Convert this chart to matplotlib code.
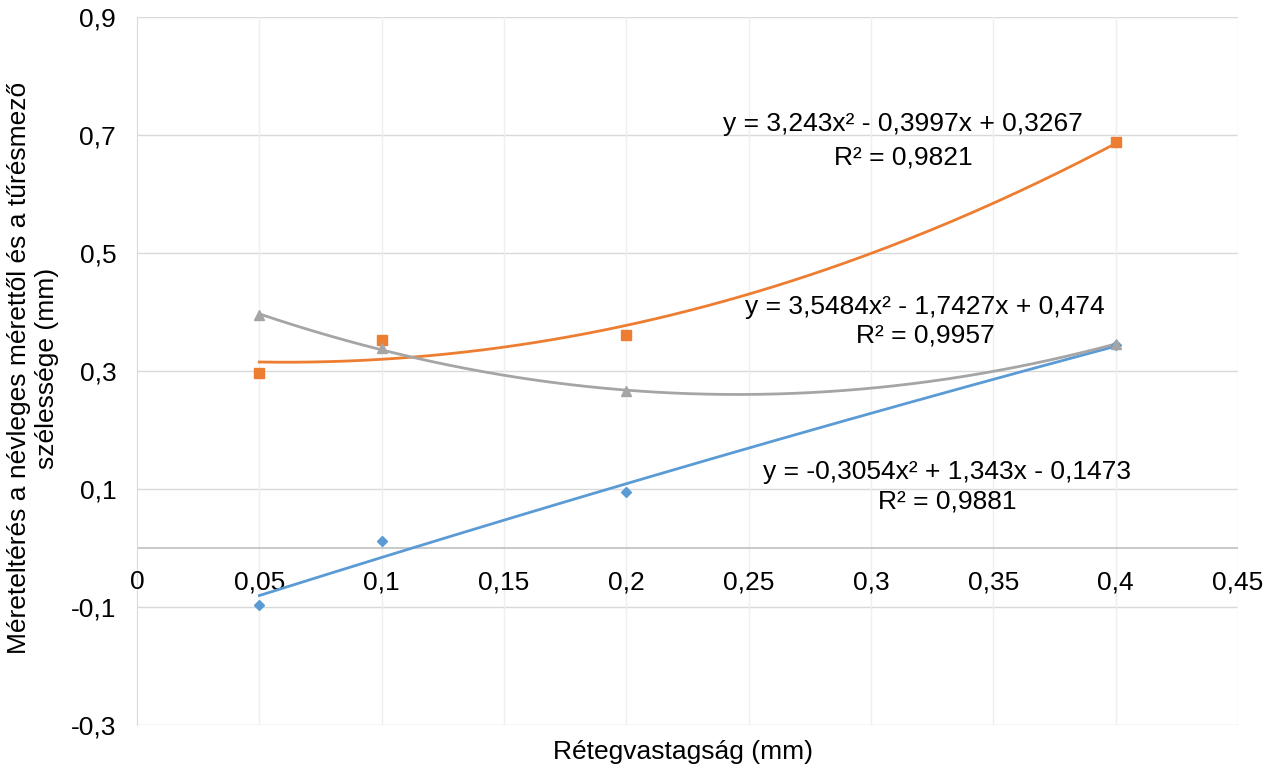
import numpy as np
import matplotlib
matplotlib.use("Agg")
import matplotlib.pyplot as plt
from matplotlib.ticker import FuncFormatter, FixedLocator

plt.rcParams['font.family'] = ['Liberation Sans', 'DejaVu Sans']

# Data
x_vals = [0.05, 0.1, 0.2, 0.4]
blue_vals = [-0.0966, 0.012, 0.095, 0.344]
orange_vals = [0.2966, 0.3525, 0.361, 0.688]
gray_vals = [0.395, 0.339, 0.266, 0.346]

orange_eq = ["y = 3,243x² - 0,3997x + 0,3267", "R² = 0,9821"]
gray_eq = ["y = 3,5484x² - 1,7427x + 0,474", "R² = 0,9957"]
blue_eq = ["y = -0,3054x² + 1,343x - 0,1473", "R² = 0,9881"]

x_ticks = [0, 0.05, 0.1, 0.15, 0.2, 0.25, 0.3, 0.35, 0.4, 0.45]
y_ticks = [-0.3, -0.1, 0.1, 0.3, 0.5, 0.7, 0.9]

xlabel = "Rétegvastagság (mm)"
ylabel = "Méreteltérés a névleges mérettől és a tűrésmező\nszélessége (mm)"

c_blue = "#5B9BD5"
c_orange = "#ED7D31"
c_gray = "#A5A5A5"

FS = 19

fig = plt.figure(figsize=(12.77, 7.69), dpi=100)
ax = fig.add_axes([137/1277, 1-725/769, (1238-137)/1277, (725-17)/769])

ax.set_xlim(0, 0.45)
ax.set_ylim(-0.3, 0.9)

# grid
for yt in y_ticks:
    ax.axhline(yt, color="#d9d9d9", lw=1.0, zorder=0)
for xt in x_ticks[1:]:
    ax.axvline(xt, color="#efefef", lw=1.0, zorder=0)
ax.axhline(0, color="#c0c0c0", lw=1.2, zorder=1)

for s in ["top", "right", "bottom"]:
    ax.spines[s].set_visible(False)
ax.spines["left"].set_color("#d9d9d9")

ax.yaxis.set_major_locator(FixedLocator(y_ticks))
ax.xaxis.set_major_locator(FixedLocator([]))
fmt = lambda v, p: ("%g" % round(v, 2)).replace(".", ",")
ax.yaxis.set_major_formatter(FuncFormatter(fmt))
ax.tick_params(axis="y", length=0, pad=15, labelsize=FS)

# x tick labels below y=0 line
for xt in x_ticks:
    ax.text(xt, -0.058, fmt(xt, None), transform=ax.transData, ha="center", va="center",
            fontsize=FS, color="black")

xs = np.linspace(min(x_vals), max(x_vals), 200)
series = [(blue_vals, c_blue, "D", 5), (orange_vals, c_orange, "s", 7), (gray_vals, c_gray, "^", 7)]
for vals, col, mk, ms in series:
    coef = np.polyfit(x_vals, vals, 2)
    ax.plot(xs, np.polyval(coef, xs), color=col, lw=2.0, zorder=3)
    ax.plot(x_vals, vals, linestyle="none", marker=mk, color=col, markersize=ms, zorder=4)

def put_eq(lines, cx, cy1, cy2):
    fig.text(cx/1277, 1-cy1/769, lines[0], ha="center", va="center", fontsize=FS)
    fig.text(cx/1277, 1-cy2/769, lines[1], ha="center", va="center", fontsize=FS)

put_eq(orange_eq, 903, 124, 157)
put_eq(gray_eq, 925, 307, 335)
put_eq(blue_eq, 947, 472, 501)

fig.text(683/1277, 1-752/769, xlabel, ha="center", va="center", fontsize=FS)
fig.text(33/1277, 1-368/769, ylabel, ha="center", va="center", rotation=90,
         fontsize=FS, multialignment="center", linespacing=1.25)

fig.savefig("out.png", dpi=100, facecolor="white")
